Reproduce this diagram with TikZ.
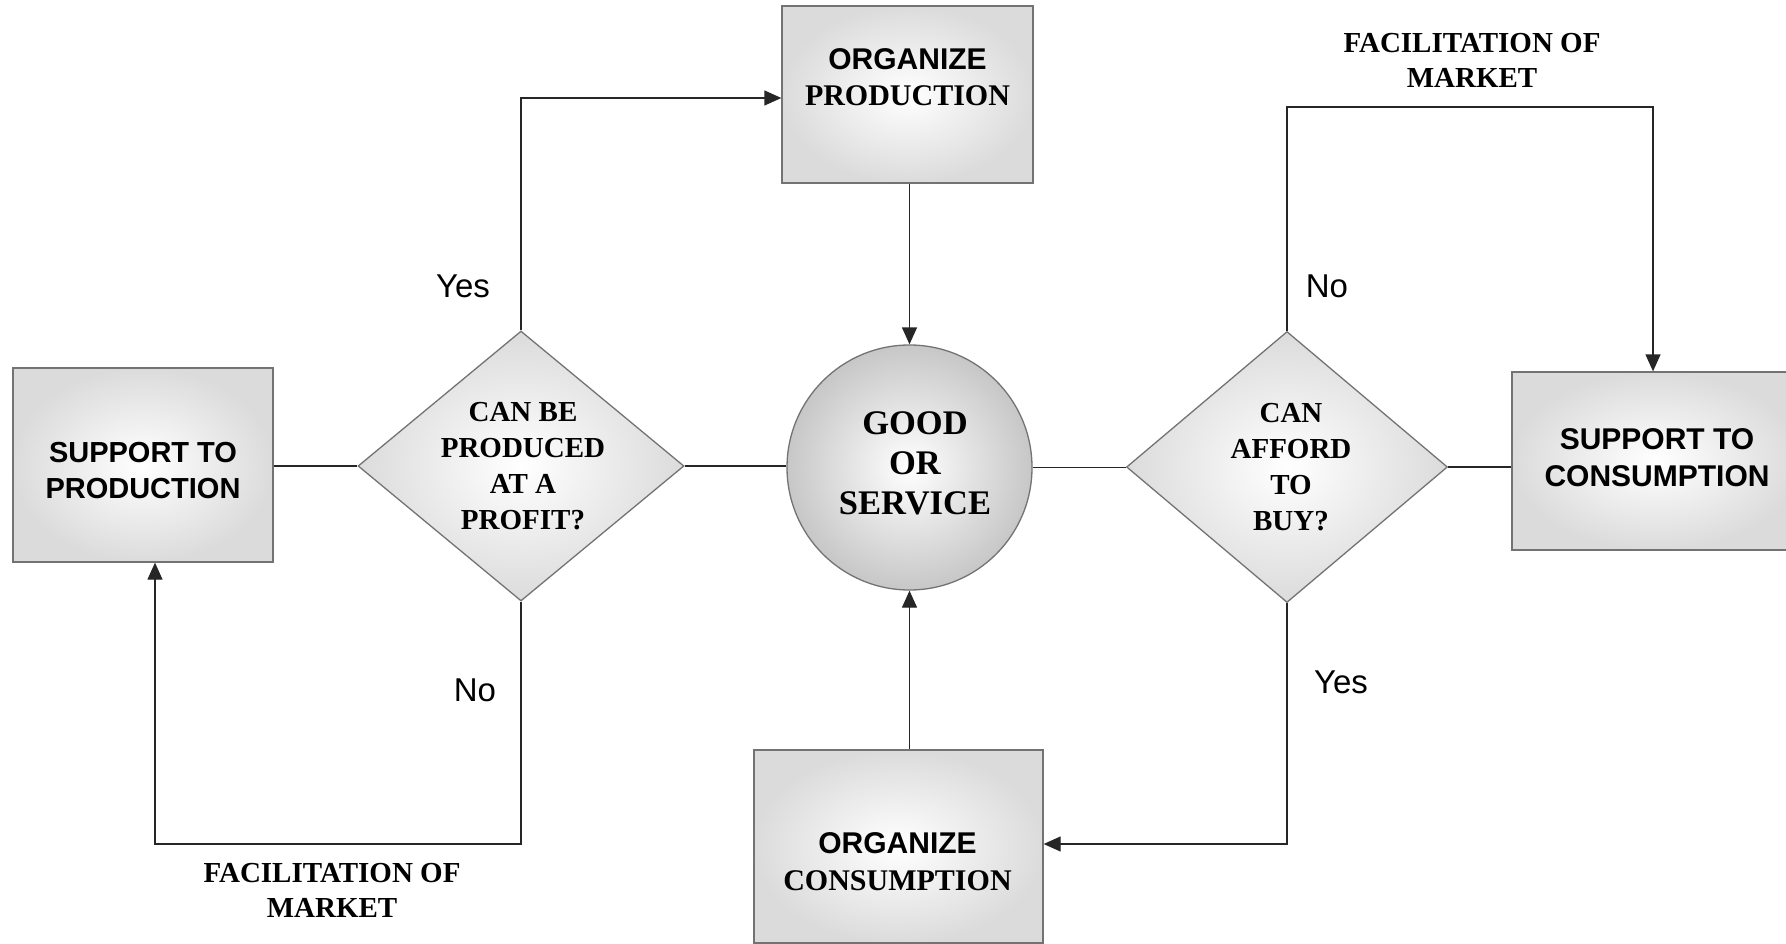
\documentclass[tikz,border=0pt]{standalone}
\usepackage{fontspec}
\setmainfont{Liberation Serif}
\setsansfont{Liberation Sans}
\usetikzlibrary{shapes.geometric,arrows.meta,calc}
\begin{document}
\begin{tikzpicture}[x=1pt,y=-1pt,
  shapebox/.style={draw=black!55, line width=1.3pt, shading=radial,
    inner color=white, outer color=black!14, inner sep=0pt},
  rectbox/.style={shapebox, rectangle},
  roundbox/.style={shapebox, circle, outer color=black!22},
  diabox/.style={shapebox, diamond},
  txt/.style={align=center, inner sep=0pt},
  lbl/.style={anchor=base, inner sep=0pt, font=\sffamily\fontsize{33}{36}\selectfont},
  conn/.style={draw=black!85, line width=1.3pt},
  arr/.style={conn, -{Triangle[length=17pt,width=15pt]}}
]
\useasboundingbox (0,0) rectangle (1786,944);
\clip (0,0) rectangle (1786,944);

% shapes
\node[rectbox, minimum width=251pt, minimum height=177pt] (orgprod) at (907.5,94.5) {};
\node[roundbox, minimum size=245pt] (circ) at (909.5,467.5) {};
\node[rectbox, minimum width=260pt, minimum height=194pt] (supprod) at (143,465) {};
\node[rectbox, minimum width=288pt, minimum height=178pt] (supcons) at (1656,461) {};
\node[rectbox, minimum width=289pt, minimum height=193pt] (orgcons) at (898.5,846.5) {};
\node[diabox, minimum width=326pt, minimum height=270pt] (ldia) at (521,466) {};
\node[diabox, minimum width=321pt, minimum height=271pt] (rdia) at (1287,467) {};

% texts in shapes
\node[txt, font=\bfseries\fontsize{30}{36}\selectfont] (orgprodt) at (907.5,77)
  {\sffamily ORGANIZE\\\rmfamily PRODUCTION};
\node[txt, font=\bfseries\fontsize{34.5}{40}\selectfont] (circt) at (915,463)
  {GOOD\\OR\\SERVICE};
\node[txt, font=\sffamily\bfseries\fontsize{29}{36}\selectfont] (supprodt) at (143,471)
  {SUPPORT TO\\PRODUCTION};
\node[txt, font=\sffamily\bfseries\fontsize{30}{36.5}\selectfont] (supconst) at (1657,457.5)
  {SUPPORT TO\\CONSUMPTION};
\node[txt, font=\bfseries\fontsize{30}{36.5}\selectfont] (orgconst) at (897.5,861.5)
  {\sffamily ORGANIZE\\\rmfamily CONSUMPTION};
\node[txt, font=\bfseries\fontsize{29}{36}\selectfont] (ldiat) at (523,466)
  {CAN BE\\PRODUCED\\AT A\\PROFIT?};
\node[txt, font=\bfseries\fontsize{29}{36}\selectfont] (rdiat) at (1291,467)
  {CAN\\AFFORD\\TO\\BUY?};

% free labels
\node[txt, font=\bfseries\fontsize{29}{35}\selectfont] (factop) at (1472,60.5)
  {FACILITATION OF\\MARKET};
\node[txt, font=\bfseries\fontsize{29}{35}\selectfont] (facbot) at (332,890)
  {FACILITATION OF\\MARKET};
\node[lbl] (yesl) at (463,297) {Yes};
\node[lbl] (nor) at (1327,297) {No};
\node[lbl] (nol) at (475,701) {No};
\node[lbl] (yesr) at (1341,693) {Yes};

% waypoints
\coordinate (topR) at (1653,107);
\coordinate (botL) at (155,844);

% connectors
\draw[arr] (ldia.north) |- ([yshift=-3.5pt]orgprod.west);
\draw[arr] (orgprod.south -| circ.north) -- (circ.north);
\draw[conn] (supprod.east |- ldia.west) -- (ldia.west);
\draw[conn] (ldia.east) -- (ldia.east -| circ.west);
\draw[conn] (circ.east) -- (circ.east -| rdia.west);
\draw[conn] (rdia.east) -- (rdia.east -| supcons.west);
\draw[arr] (rdia.north) |- (topR) -- (topR |- supcons.north);
\draw[arr] (rdia.south) |- ([yshift=2.5pt]orgcons.east);
\draw[arr] (orgcons.north -| circ.south) -- (circ.south);
\draw[arr] (ldia.south) |- (botL) -- ([xshift=12pt]supprod.south);
\end{tikzpicture}
\end{document}
